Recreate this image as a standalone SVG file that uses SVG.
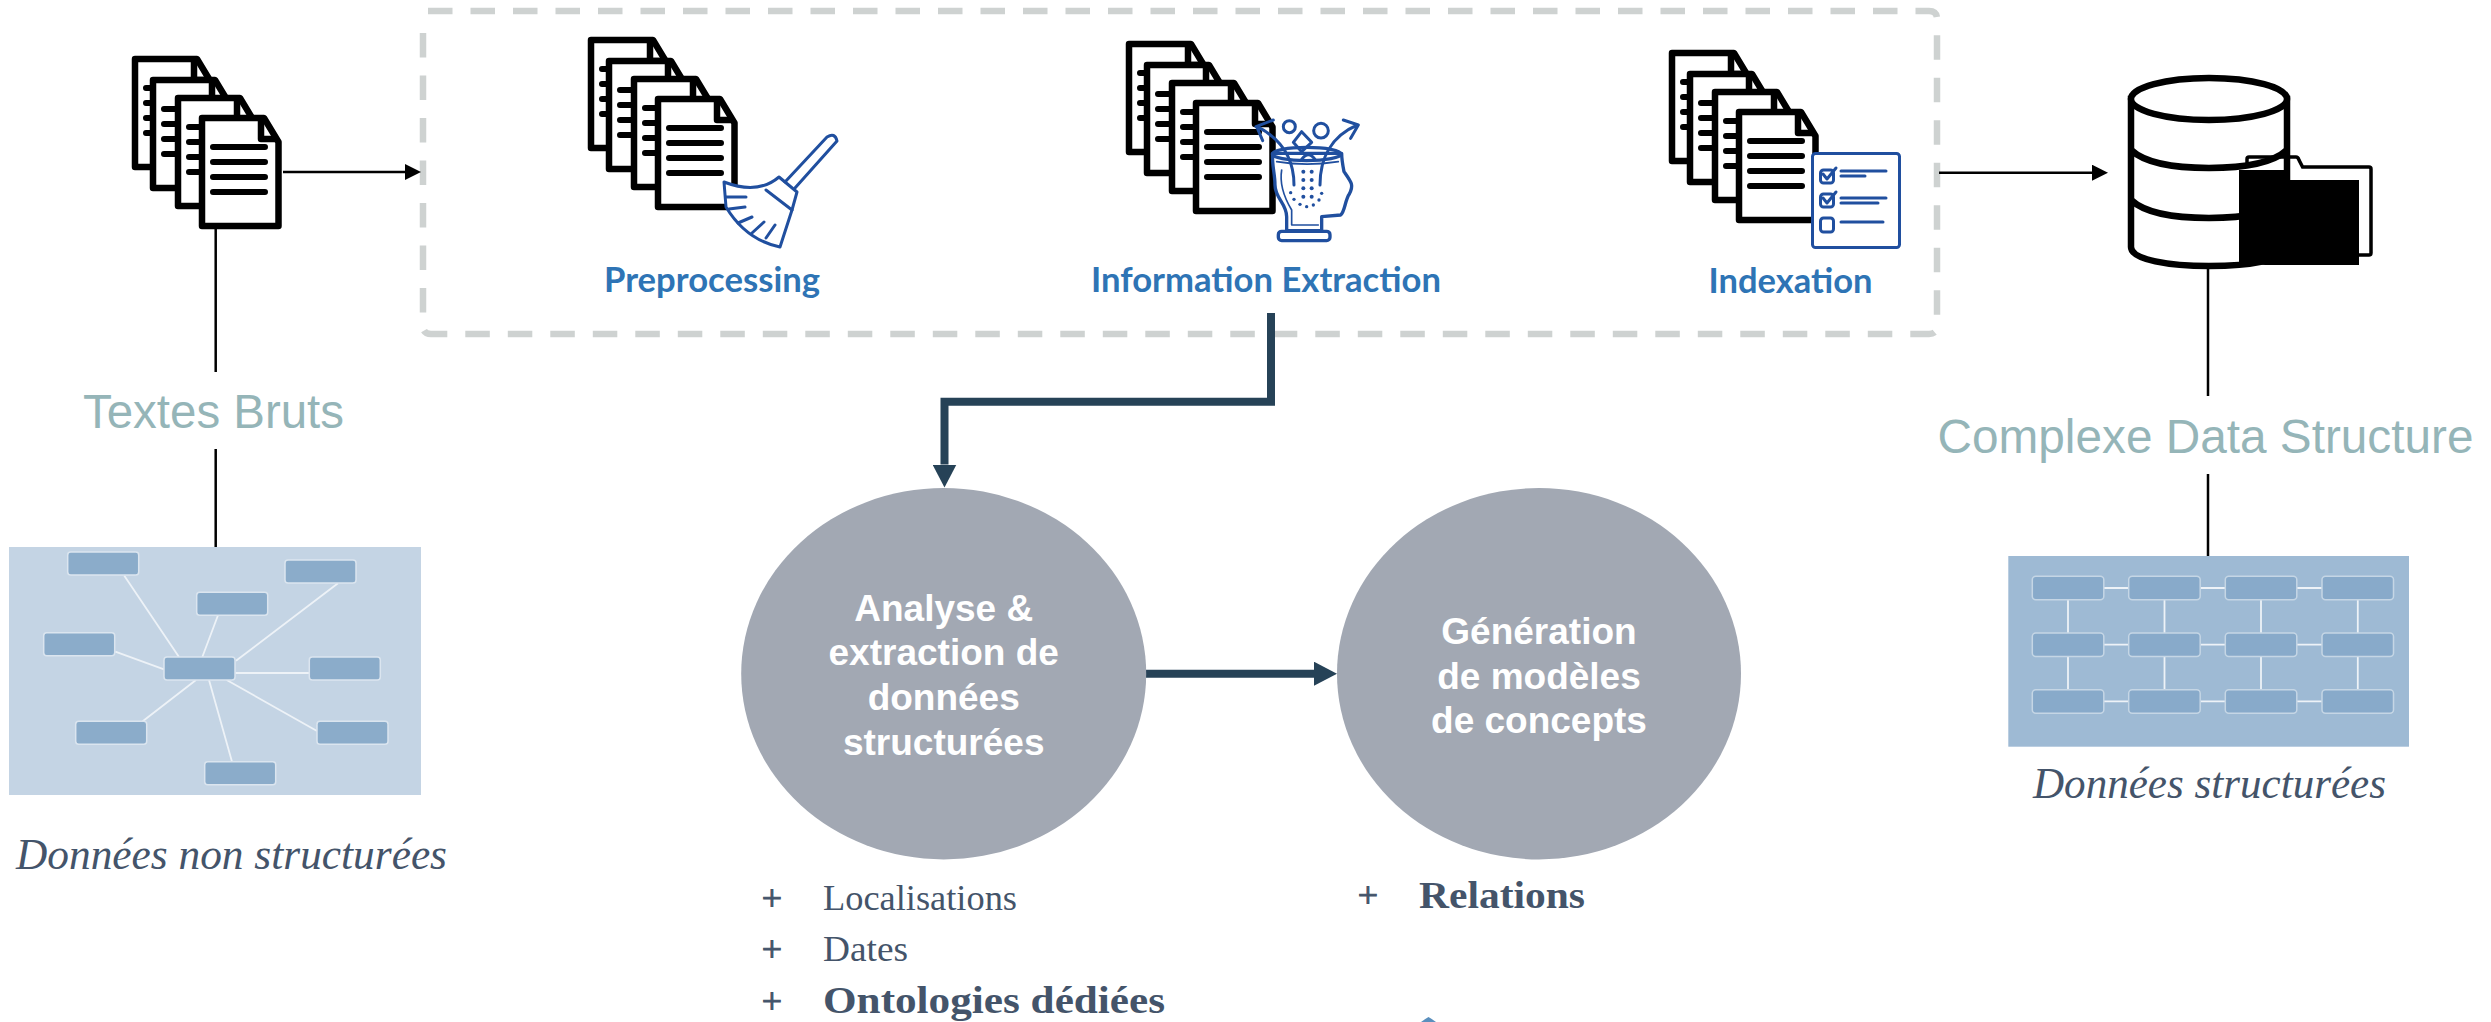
<svg xmlns="http://www.w3.org/2000/svg" xmlns:xlink="http://www.w3.org/1999/xlink" width="2491" height="1022" viewBox="0 0 2491 1022">
<style>
.pic{fill:#fff;stroke:#000;stroke-width:6.500;stroke-linejoin:round}
.ln{fill:none;stroke:#000;stroke-width:6;stroke-linecap:round}
.blue{fill:none;stroke:#204f9f;stroke-width:3;stroke-linecap:round;stroke-linejoin:round}
.blab{font-family:Lato,"Open Sans",sans-serif;font-weight:700;font-size:34px;fill:#2e74b5}
.big{font-family:"Liberation Sans",Arial,sans-serif;font-size:48px;fill:#95b5b8}
.cap{font-family:"Liberation Serif",serif;font-style:italic;font-size:44px;fill:#44546a}
.li{font-family:"Liberation Serif",serif;font-size:36px;fill:#44546a}
.b{font-weight:700;font-size:38px}
.plus{stroke:#44546a;stroke-width:1;text-anchor:middle}
.circ{fill:#a2a8b3}
.ct{font-family:"Liberation Sans",Arial,sans-serif;font-weight:700;font-size:37px;fill:#fff;text-anchor:middle}
.thin{fill:none;stroke:#000;stroke-width:2.500}
.dark{fill:none;stroke:#264257;stroke-width:8}
.n1{fill:#8bacca;stroke:#dbe5ef;stroke-width:1.500}
.l1{stroke:#edf2f7;stroke-width:1.800;fill:none}
.n2{fill:#88aaca;stroke:#c5d6e5;stroke-width:1.500}
</style>
<defs>
<marker id="ah" markerUnits="userSpaceOnUse" markerWidth="17" markerHeight="16" refX="0" refY="8" orient="auto"><path d="M0,0L16,8L0,16Z" fill="#000"/></marker>
<marker id="ad" markerUnits="userSpaceOnUse" markerWidth="24" markerHeight="24" refX="0" refY="12" orient="auto"><path d="M0,0L23,12L0,24Z" fill="#264257"/></marker>
<g id="doc">
<path class="pic" d="M3,3H65L79.500,27V111H3Z"/>
<path class="pic" style="fill:none" d="M62,4V24H78"/>
<path class="ln" d="M14,32H66M14,47H66M14,62H66M14,77H66"/>
</g>
<g id="stack">
<use href="#doc"/>
<use href="#doc" x="18" y="21"/>
<use href="#doc" x="43" y="39"/>
<use href="#doc" x="67" y="59"/>
</g>
</defs>

<g id="process-frame">
<path d="M428,11H1929Q1937,11 1937,19V326Q1937,334 1929,334H431Q423,334 423,326V19" fill="none" stroke="#ced2d1" stroke-width="6.500" stroke-dasharray="24.500 18"/>
</g>

<g id="textes-bruts-icon"><use href="#stack" x="132" y="56"/></g>

<g id="preprocessing">
<use href="#stack" x="588" y="37"/>
<path class="blue" style="fill:#fff" d="M724,182Q758,195 779,177L797,192L792,210L780,247Q746,240 726,207Z"/>
<path class="blue" d="M766,190L792,210M726,197H746M729,209L745,207M738,223L752,217M752,233L764,222M766,238L775,225M785,182L827,137Q835,132 837,141L795,188"/>
<text class="blab" x="604" y="292" textLength="216" lengthAdjust="spacingAndGlyphs">Preprocessing</text>
</g>

<g id="information-extraction">
<use href="#stack" x="1126" y="41"/>
<g transform="translate(1250,110) scale(0.3333)">
<path class="blue" style="fill:#fff;stroke-width:10" d="M68,130C65,165 75,190 75,225C75,265 110,280 110,320V362H215V320L272,315C285,305 285,270 298,252C312,225 305,218 282,185C278,165 275,150 275,130Z"/>
<ellipse class="blue" style="stroke-width:10" cx="170" cy="132" rx="103" ry="20"/>
<path class="blue" style="stroke-width:5" d="M80,155Q170,170 265,155M95,180C90,210 95,250 125,300V345H205"/>
<rect class="blue" style="stroke-width:10;fill:#fff" x="85" y="364" width="155" height="28" rx="10"/>
<path class="blue" style="stroke-width:9" d="M132,225C132,150 100,90 22,50M18,50L70,30M20,50L38,92M210,225C210,150 240,80 322,45M280,30L325,45L302,85"/>
<circle class="blue" style="stroke-width:9" cx="118" cy="50" r="18"/>
<circle class="blue" style="stroke-width:9" cx="213" cy="62" r="22"/>
<path class="blue" style="stroke-width:9" d="M155,65L185,97L155,125L130,97ZM155,148Q175,120 195,148"/>
<g fill="#204f9f"><circle cx="160" cy="185" r="6"/><circle cx="185" cy="185" r="6"/><circle cx="160" cy="210" r="6"/><circle cx="185" cy="210" r="6"/><circle cx="160" cy="235" r="6"/><circle cx="185" cy="235" r="6"/><circle cx="160" cy="260" r="6"/><circle cx="185" cy="260" r="6"/><circle cx="122" cy="248" r="5"/><circle cx="132" cy="268" r="5"/><circle cx="150" cy="283" r="5"/><circle cx="170" cy="290" r="5"/><circle cx="190" cy="285" r="5"/><circle cx="207" cy="270" r="5"/><circle cx="215" cy="250" r="5"/></g>
</g>
<text class="blab" x="1091" y="292" textLength="350" lengthAdjust="spacingAndGlyphs">Information Extraction</text>
</g>

<g id="indexation">
<use href="#stack" x="1669" y="50"/>
<rect class="blue" style="fill:#fff" x="1812.500" y="153.500" width="87" height="94" rx="3"/>
<rect class="blue" x="1820.500" y="170" width="13" height="13" rx="3"/>
<rect class="blue" x="1820.500" y="194" width="13" height="13" rx="3"/>
<rect class="blue" x="1820.500" y="218" width="13" height="14" rx="3"/>
<path class="blue" d="M1823,174L1827,179L1836,168M1823,198L1827,203L1836,192M1841,171H1886M1841,176H1865M1841,198H1886M1841,203H1878M1841,222H1883"/>
<text class="blab" x="1708.500" y="293" textLength="164" lengthAdjust="spacingAndGlyphs">Indexation</text>
</g>

<g id="database-icon">
<path d="M2131,99V247C2131,260 2170,266 2209,266C2250,266 2287,260 2287,247V99Z" fill="#fff" stroke="#000" stroke-width="6.500"/>
<ellipse cx="2209" cy="99" rx="78" ry="21" fill="#fff" stroke="#000" stroke-width="6.500"/>
<path class="ln" style="stroke-width:6.500;stroke-linecap:butt" d="M2131,150C2145,163 2175,168 2209,168C2245,168 2273,163 2287,150M2131,200C2145,213 2175,218 2209,218C2245,218 2273,213 2287,200"/>
<path d="M2247,168V159Q2247,157 2249,157H2296Q2298,157 2299,160L2302.600,167H2369Q2371,167 2371,169V253Q2371,255 2369,255H2359" fill="none" stroke="#000" stroke-width="3.500"/>
<path d="M2239,170H2288V180H2359V265H2265L2239,262Z" fill="#000"/>
</g>

<g id="connectors">
<path class="thin" d="M283,172H405" marker-end="url(#ah)"/>
<path class="thin" d="M1939,172.700H2092" marker-end="url(#ah)"/>
<path class="thin" d="M215.700,228V372M215.700,449V547"/>
<path class="thin" d="M2208,269V396M2208,474V556"/>
<path class="dark" d="M1271,313V401.700H944.500V464.500" marker-end="url(#ad)"/>
<path class="dark" d="M1146,673.700H1314" marker-end="url(#ad)"/>
</g>

<g id="label-textes-bruts"><text class="big" x="83" y="428" textLength="261" lengthAdjust="spacingAndGlyphs">Textes Bruts</text></g>
<g id="label-complexe"><text class="big" x="1937.500" y="452.700" textLength="536" lengthAdjust="spacingAndGlyphs">Complexe Data Structure</text></g>

<g id="panel-unstructured">
<rect x="9" y="547" width="412" height="248" fill="#c4d4e4"/>
<path class="l1" d="M124.300,575.700L179,657M338,583.300L236,660.700M218,615.300L202.300,657M115.300,651.700L164,669.300M235.300,673H309.300M196,680L142.700,721.300M209,680L232,761.700M226.700,680L317,731"/>
<g class="n1">
<rect x="67.700" y="552" width="71" height="23" rx="3"/><rect x="285" y="560" width="71" height="23" rx="3"/><rect x="196.700" y="592.300" width="71" height="23" rx="3"/><rect x="43.700" y="632.700" width="71" height="23" rx="3"/><rect x="164" y="657" width="71" height="23" rx="3"/><rect x="309.300" y="657" width="71" height="23" rx="3"/><rect x="75.700" y="721.300" width="71" height="23" rx="3"/><rect x="317" y="721.300" width="71" height="23" rx="3"/><rect x="204.700" y="761.700" width="71" height="23" rx="3"/>
</g>
<text class="cap" x="16" y="869" textLength="431" lengthAdjust="spacingAndGlyphs">Données non structurées</text>
</g>

<g id="panel-structured">
<rect x="2008.300" y="556" width="400.700" height="190.700" fill="#9ebad4"/>
<path class="l1" d="M2104,588H2128.700M2200.200,588H2225.300M2296.800,588H2322M2104,644.700H2128.700M2200.200,644.700H2225.300M2296.800,644.700H2322M2104,701.400H2128.700M2200.200,701.400H2225.300M2296.800,701.400H2322M2068,600V633M2164.500,600V633M2261,600V633M2357.800,600V633M2068,656.500V689.700M2164.500,656.500V689.700M2261,656.500V689.700M2357.800,656.500V689.700"/>
<g class="n2">
<rect x="2032.300" y="576.300" width="71.500" height="23.500" rx="3.500"/><rect x="2128.700" y="576.300" width="71.500" height="23.500" rx="3.500"/><rect x="2225.300" y="576.300" width="71.500" height="23.500" rx="3.500"/><rect x="2322" y="576.300" width="71.500" height="23.500" rx="3.500"/>
<rect x="2032.300" y="633" width="71.500" height="23.500" rx="3.500"/><rect x="2128.700" y="633" width="71.500" height="23.500" rx="3.500"/><rect x="2225.300" y="633" width="71.500" height="23.500" rx="3.500"/><rect x="2322" y="633" width="71.500" height="23.500" rx="3.500"/>
<rect x="2032.300" y="689.700" width="71.500" height="23.500" rx="3.500"/><rect x="2128.700" y="689.700" width="71.500" height="23.500" rx="3.500"/><rect x="2225.300" y="689.700" width="71.500" height="23.500" rx="3.500"/><rect x="2322" y="689.700" width="71.500" height="23.500" rx="3.500"/>
</g>
<text class="cap" x="2033" y="798" textLength="353" lengthAdjust="spacingAndGlyphs">Données structurées</text>
</g>

<g id="analyse">
<ellipse class="circ" cx="943.700" cy="673.700" rx="202.500" ry="185.700"/>
<text class="ct" x="943.700" y="621">Analyse &amp;</text>
<text class="ct" x="943.700" y="665.400">extraction de</text>
<text class="ct" x="943.700" y="709.800">données</text>
<text class="ct" x="943.700" y="755">structurées</text>
</g>
<g id="generation">
<ellipse class="circ" cx="1539" cy="673.700" rx="202" ry="185.700"/>
<text class="ct" x="1539" y="644">Génération</text>
<text class="ct" x="1539" y="688.700">de modèles</text>
<text class="ct" x="1539" y="733">de concepts</text>
</g>

<g id="list-analyse">
<text class="li plus" x="772" y="910">+</text>
<text class="li" x="823" y="910" textLength="194" lengthAdjust="spacingAndGlyphs">Localisations</text>
<text class="li plus" x="772" y="961">+</text>
<text class="li" x="823" y="961" textLength="85" lengthAdjust="spacingAndGlyphs">Dates</text>
<text class="li plus" x="772" y="1013">+</text>
<text class="li b" x="823" y="1013" textLength="342" lengthAdjust="spacingAndGlyphs">Ontologies dédiées</text>
</g>
<g id="list-generation">
<text class="li plus" x="1368" y="907">+</text>
<text class="li b" x="1419" y="908" textLength="166" lengthAdjust="spacingAndGlyphs">Relations</text>
<path d="M1428.500,1017Q1432,1019 1436,1022H1421Q1425,1019 1428.500,1017Z" fill="#5a8fbd"/>
</g>
</svg>
